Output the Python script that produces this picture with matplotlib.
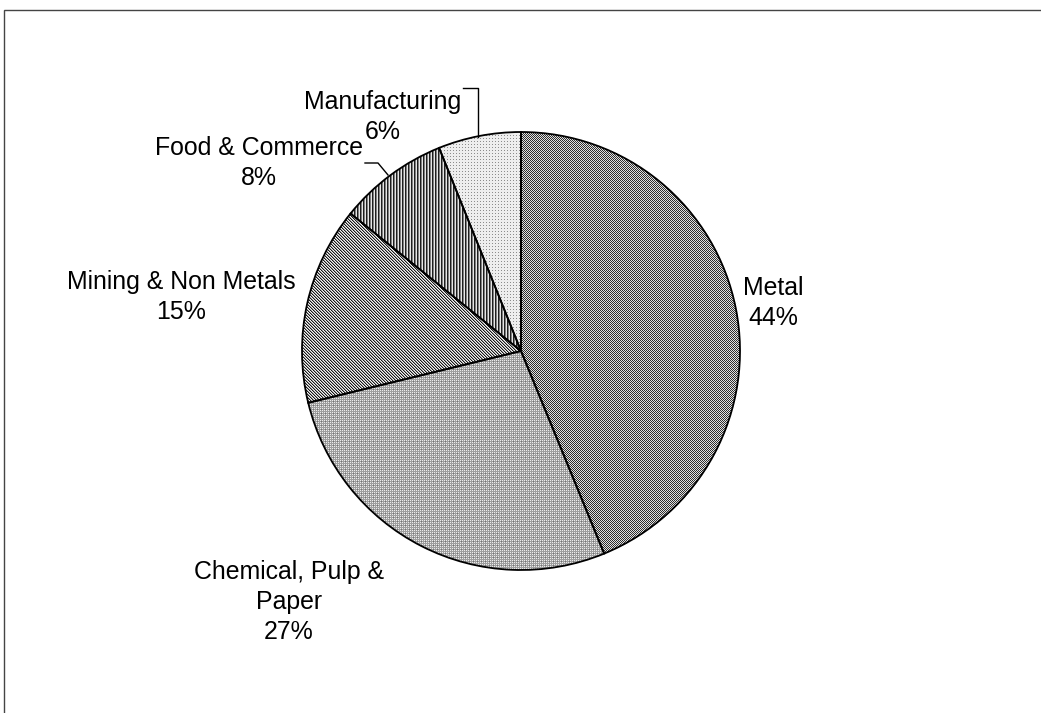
import numpy as np
import matplotlib
matplotlib.use("Agg")
import matplotlib.pyplot as plt
from matplotlib.patches import Rectangle

plt.rcParams['font.family'] = ['Liberation Sans', 'DejaVu Sans']

# Share of energy use by industrial sector (%)
sectors = ["Metal", "Chemical, Pulp &\nPaper", "Mining & Non Metals",
           "Food & Commerce", "Manufacturing"]
shares = [43.8, 27.4, 14.6, 8.1, 6.1]

W, H = 1041, 713
fig = plt.figure(figsize=(W / 100, H / 100), dpi=100)
ax = fig.add_axes([0, 0, 1, 1])

# outer frame (extends past the right and bottom edges)
fig.patches.append(Rectangle((4 / W, -0.05), 1.2, (H - 10.5) / H + 0.05,
                             transform=fig.transFigure, fill=False,
                             edgecolor='#444444', linewidth=1.0))

cx, cy, r = 521, H - 351, 219

wedges, _ = ax.pie(shares, startangle=90, counterclock=False,
                   center=(cx, cy), radius=r, frame=True,
                   wedgeprops=dict(facecolor='none', edgecolor='black',
                                   linewidth=1.3))

# pixel-level fill patterns
yy, xx = np.mgrid[0:H, 0:W]
patterns = []
# checkerboard
patterns.append(np.where((xx + yy) % 2 == 0, 0.18, 0.88))
# fine grey grid with light dots
p = np.full((H, W), 0.62)
p[(xx % 2 == 0) & (yy % 2 == 0)] = 0.92
p[(xx % 4 == 1) & (yy % 4 == 1)] = 0.45
patterns.append(p)
# diagonal stripes
patterns.append(np.choose((xx - yy) % 3, [0.1, 0.6, 0.95]))
# vertical stripes
patterns.append(np.choose(xx % 3, [0.12, 0.5, 0.9]))
# light dotted
p = np.full((H, W), 0.93)
p[(xx % 3 == 0) & (yy % 3 == 0)] = 0.55
patterns.append(p)

for w, pat in zip(wedges, patterns):
    im = ax.imshow(pat, cmap='gray', vmin=0, vmax=1, extent=(0, W, 0, H),
                   origin='upper', interpolation='nearest', zorder=0.5)
    im.set_clip_path(w)

ax.set_xlim(0, W)
ax.set_ylim(0, H)
ax.set_aspect('equal')
ax.axis('off')

# label layout: (x, y) pixel positions of label centres
label_pos = [(773, 303), (289, 602), (181, 297), (259, 163), (383, 117)]
fs = 17.9
for name, val, (lx, ly) in zip(sectors, shares, label_pos):
    ax.text(lx, H - ly, f"{name}\n{round(val):.0f}%", ha='center', va='center',
            fontsize=fs, linespacing=1.3, color='black')

# leader lines for the two small slices
ax.plot([365, 378, 388], [H - 163, H - 163, H - 175], color='black', lw=1.0)
ax.plot([463, 478, 478], [H - 88, H - 88, H - 137], color='black', lw=1.0)

fig.savefig("out.png", dpi=100)
